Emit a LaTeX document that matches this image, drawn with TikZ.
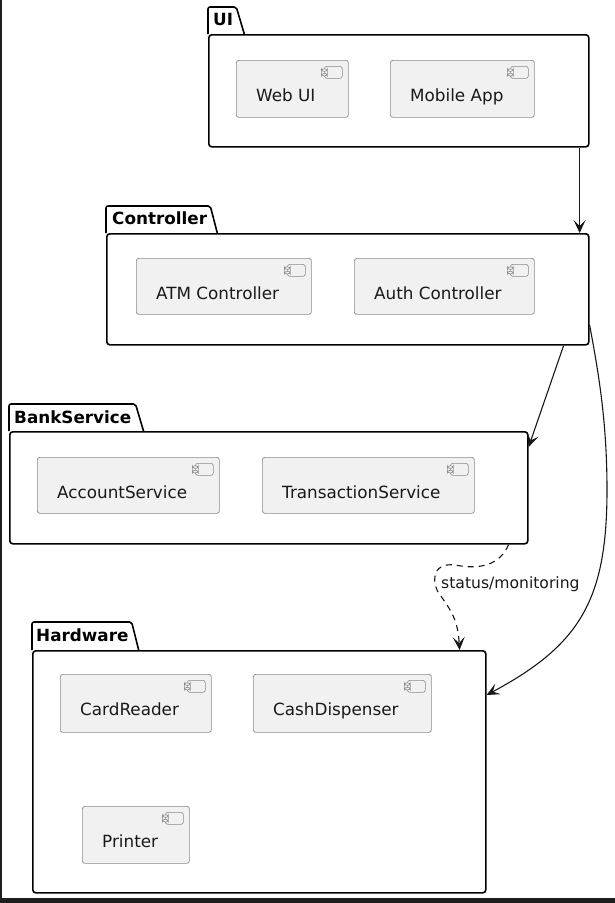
\documentclass[tikz,border=0pt]{standalone}
\usepackage{fontspec}
\setmainfont{DejaVu Sans}
\usetikzlibrary{arrows.meta,calc}
\definecolor{compfill}{HTML}{F1F1F1}
\definecolor{compline}{HTML}{8A8A8A}
\definecolor{edge}{HTML}{181818}
\definecolor{frame}{HTML}{1E1E1E}
\tikzset{
  pkgbody/.style={draw=black, line width=1.6pt, rounded corners=3pt, anchor=north west, inner sep=0pt, fill=white},
  pkgtab/.style={draw=black, line width=1.6pt, rounded corners=2pt, line join=round},
  pkgtitle/.style={anchor=base west, inner sep=0pt, font=\fontsize{16.8}{18}\selectfont\bfseries},
  comp/.style={draw=compline, fill=compfill, line width=0.7pt, rounded corners=2.5pt, anchor=north west, inner sep=0pt, minimum height=57pt,
    path picture={
      \coordinate (ne) at (path picture bounding box.north east);
      \draw[compline, line width=0.6pt, fill=compfill] ($(ne)+(-24,6)$) rectangle ($(ne)+(-6,18)$);
      \draw[compline, line width=0.6pt, fill=compfill] ($(ne)+(-27,8.5)$) rectangle ($(ne)+(-21,11)$);
      \draw[compline, line width=0.6pt, fill=compfill] ($(ne)+(-27,13)$) rectangle ($(ne)+(-21,15.5)$);
    }},
  ctext/.style={anchor=base west, inner sep=0pt, font=\fontsize{16.8}{18}\selectfont, text=black!90},
  conn/.style={draw=edge, line width=1.1pt, -{Stealth[length=13pt,width=12pt,inset=6pt]}},
  lbl/.style={anchor=base west, inner sep=0pt, font=\fontsize{15.6}{17}\selectfont, text=black!90}
}
\begin{document}
\begin{tikzpicture}[x=1pt,y=-1pt]
\useasboundingbox (0,0) rectangle (615,903);
\fill[white] (0,0) rectangle (615,903);
% frame edges of the screenshot
\fill[frame] (0,0) rectangle (2,903);
\fill[frame] (0,898) rectangle (615,903);

% ---------- UI ----------
\node[pkgtitle] (uiT) at (213,25.5) {UI};
\draw[pkgtab] (208,34) -- (208,7) -- ($(uiT.east |- 0,7)+(3,0)$) -- ($(uiT.east |- 0,34)+(11,0)$);
\node[pkgbody, minimum width=380pt, minimum height=112pt] (ui) at (208,34) {};
\node[comp, minimum width=112pt] (webui) at (236,60) {};
\node[ctext] at ($(webui.north west)+(20,41)$) {Web UI};
\node[comp, minimum width=144pt] (mobile) at (390,60) {};
\node[ctext] at ($(mobile.north west)+(20,41)$) {Mobile App};

% ---------- Controller ----------
\node[pkgtitle] (ctrlT) at (112,224.5) {Controller};
\draw[pkgtab] (106,233) -- (106,206) -- ($(ctrlT.east |- 0,206)+(3,0)$) -- ($(ctrlT.east |- 0,233)+(10,0)$);
\node[pkgbody, minimum width=482pt, minimum height=111pt] (ctrl) at (106,233) {};
\node[comp, minimum width=175pt, minimum height=56pt] (atm) at (136,258) {};
\node[ctext] at ($(atm.north west)+(20,41)$) {ATM Controller};
\node[comp, minimum width=180pt, minimum height=56pt] (auth) at (354,258) {};
\node[ctext] at ($(auth.north west)+(20,41)$) {Auth Controller};

% ---------- BankService ----------
\node[pkgtitle] (bankT) at (14,423) {BankService};
\draw[pkgtab] (9,431) -- (9,404) -- ($(bankT.east |- 0,404)+(4,0)$) -- ($(bankT.east |- 0,431)+(12,0)$);
\node[pkgbody, minimum width=518pt, minimum height=112pt] (bank) at (9,431) {};
\node[comp, minimum width=182pt, minimum height=56pt] (acct) at (37,457) {};
\node[ctext] at ($(acct.north west)+(20,41)$) {AccountService};
\node[comp, minimum width=212pt, minimum height=56pt] (trans) at (262,457) {};
\node[ctext] at ($(trans.north west)+(20,41)$) {TransactionService};

% ---------- Hardware ----------
\node[pkgtitle] (hwT) at (36,641) {Hardware};
\draw[pkgtab] (32,650) -- (32,622) -- ($(hwT.east |- 0,622)+(3,0)$) -- ($(hwT.east |- 0,650)+(10,0)$);
\node[pkgbody, minimum width=453pt, minimum height=242pt] (hw) at (32,650) {};
\node[comp, minimum width=151pt, minimum height=58pt] (card) at (60,674) {};
\node[ctext] at ($(card.north west)+(20,41)$) {CardReader};
\node[comp, minimum width=178pt, minimum height=58pt] (cash) at (253,674) {};
\node[ctext] at ($(cash.north west)+(20,41)$) {CashDispenser};
\node[comp, minimum width=107pt, minimum height=57pt] (printer) at (82,806) {};
\node[ctext] at ($(printer.north west)+(20,41)$) {Printer};

% ---------- connectors ----------
\draw[conn] ($(ui.south east)+(-10,0)$) -- ($(ctrl.north east)+(-10,0)$);
\draw[conn] ($(ctrl.south east)+(-26,0)$) -- ($(bank.north east)+(0,16)$);
\draw[conn] ($(ctrl.north east)+(0,92)$) .. controls (598,370) and (607,420) .. (607,490)
            .. controls (607,600) and (580,645) .. ($(hw.north east)+(0,45)$);
\draw[conn, dash pattern=on 6pt off 5pt] ($(bank.south east)+(-20,0)$)
            .. controls (500,565) and (480,570) .. (455,565)
            .. controls (430,562) and (432,585) .. (440,595)
            .. controls (455,615) and (458,625) .. ($(hw.north east)+(-27,0)$);
\node[lbl] (lab) at (441,588) {status/monitoring};
\end{tikzpicture}
\end{document}
